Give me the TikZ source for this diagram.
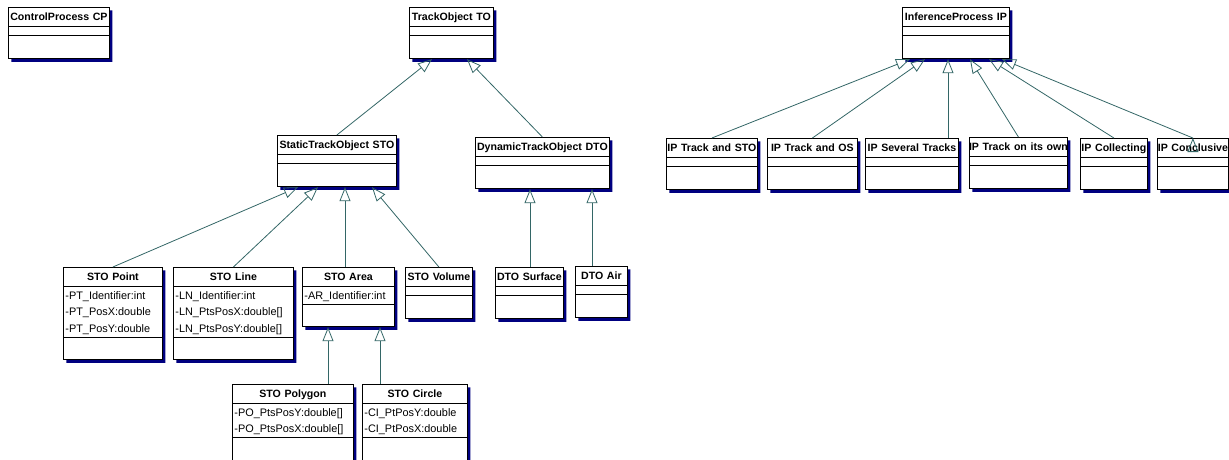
\documentclass[tikz,border=0pt]{standalone}
\usepackage{fontspec}
\setmainfont{Liberation Sans}
\usetikzlibrary{shapes.multipart,shadows,arrows.meta,calc}
\definecolor{shadownavy}{RGB}{0,0,128}
\definecolor{linkteal}{RGB}{51,102,102}

\newcommand{\clsname}[1]{\makebox[\hsize][c]{\fontsize{10.6}{12}\selectfont\bfseries\rule[-6pt]{0pt}{18.5pt}#1}}
\newcommand{\attrs}{\baselineskip=16.5pt\lineskip=0pt\lineskiplimit=0pt}
\newcommand{\attr}[1]{\rule[-4.5pt]{0pt}{16.5pt}\hspace*{2pt}#1\par}
\newcommand{\noattr}{\rule{0pt}{7.5pt}}
\newcommand{\noops}[1][23pt]{\rule{0pt}{#1}}
\newcommand{\plaincls}[1]{\clsname{#1}\nodepart{two}\noattr\nodepart{three}\noops}

\tikzset{
  umlclass/.style={rectangle split, rectangle split parts=3,
    rectangle split ignore empty parts=false, draw, line width=0.8pt,
    fill=white, inner xsep=0pt, inner ysep=0pt, text width=#1,
    anchor=north west, font=\fontsize{10.9}{16.5}\selectfont,
    drop shadow={shadow xshift=3pt, shadow yshift=-3pt, fill=shadownavy, opacity=1}},
  inherit/.style={draw, color=linkteal, line width=0.8pt,
    -{Triangle[open,length=14pt,width=11pt]}}
}

\begin{document}
\begin{tikzpicture}[x=1pt,y=-1pt]
   \useasboundingbox (0,0) rectangle (1229,459);

   % top level
   \node[umlclass=101pt] (cp) at (8,7) {\plaincls{ControlProcess CP}};
   \node[umlclass=84pt] (to) at (409,7) {\plaincls{TrackObject TO}};
   \node[umlclass=107pt] (ip) at (902,7) {\plaincls{InferenceProcess IP}};

   % track objects
   \node[umlclass=119pt] (sto) at (277,135) {\plaincls{StaticTrackObject STO}};
   \node[umlclass=134pt] (dto) at (475,137) {\plaincls{DynamicTrackObject DTO}};

   \node[umlclass=99pt] (stopoint) at (63,267) {\clsname{STO Point}
     \nodepart{two}\attrs\attr{-PT\_Identifier:int}\attr{-PT\_PosX:double}\attr{-PT\_PosY:double}
     \nodepart{three}\noops[22pt]};
   \node[umlclass=120pt] (stoline) at (173,267) {\clsname{STO Line}
     \nodepart{two}\attrs\attr{-LN\_Identifier:int}\attr{-LN\_PtsPosX:double[]}\attr{-LN\_PtsPosY:double[]}
     \nodepart{three}\noops[22pt]};
   \node[umlclass=92pt] (stoarea) at (302,267) {\clsname{STO Area}
     \nodepart{two}\attrs\attr{-AR\_Identifier:int}
     \nodepart{three}\noops[22pt]};
   \node[umlclass=67pt] (stovolume) at (405,267) {\plaincls{STO Volume}};

   \node[umlclass=121pt] (stopolygon) at (232,384) {\clsname{STO Polygon}
     \nodepart{two}\attrs\attr{-PO\_PtsPosY:double[]}\attr{-PO\_PtsPosX:double[]}
     \nodepart{three}\noops[22pt]};
   \node[umlclass=105pt] (stocircle) at (362,384) {\clsname{STO Circle}
     \nodepart{two}\attrs\attr{-CI\_PtPosY:double}\attr{-CI\_PtPosX:double}
     \nodepart{three}\noops[22pt]};

   \node[umlclass=68pt] (dtosurface) at (495,267) {\plaincls{DTO Surface}};
   \node[umlclass=52pt] (dtoair) at (575,266) {\plaincls{DTO Air}};

   % inference processes
   \node[umlclass=91pt] (iptrack) at (666,138) {\plaincls{IP Track and STO}};
   \node[umlclass=90pt] (ipos) at (767,138) {\plaincls{IP Track and OS}};
   \node[umlclass=93pt] (ipseveral) at (865,138) {\plaincls{IP Several Tracks}};
   \node[umlclass=98pt] (ipown) at (969,137) {\plaincls{IP Track on its own}};
   \node[umlclass=67pt] (ipcollect) at (1080,138) {\plaincls{IP Collecting}};
   \node[umlclass=71pt] (ipconcl) at (1157,138) {\plaincls{IP Conclusive}};

   \coordinate (to-a) at ($(to.south west)+(23,0)$);
   \coordinate (to-b) at ($(to.south west)+(58,0)$);
   \coordinate (sto-a) at ($(sto.south west)+(21,0)$);
   \coordinate (sto-b) at ($(sto.south west)+(41,0)$);
   \coordinate (sto-c) at ($(sto.south west)+(68,0)$);
   \coordinate (sto-d) at ($(sto.south west)+(95,0)$);
   \coordinate (dto-a) at ($(dto.south west)+(55,0)$);
   \coordinate (dto-b) at ($(dto.south west)+(117,0)$);
   \coordinate (area-a) at ($(stoarea.south west)+(26,0)$);
   \coordinate (area-b) at ($(stoarea.south west)+(78,0)$);
   \coordinate (ip-a) at ($(ip.south west)+(8,0)$);
   \coordinate (ip-b) at ($(ip.south west)+(23,0)$);
   \coordinate (ip-c) at ($(ip.south west)+(46,0)$);
   \coordinate (ip-d) at ($(ip.south west)+(68,0)$);
   \coordinate (ip-e) at ($(ip.south west)+(87,0)$);
   \coordinate (ip-f) at ($(ip.south west)+(100,0)$);

   \path[inherit]
    (sto.north) edge (to-a)
    (dto.north) edge (to-b)
    (stopoint.north) edge (sto-a)
    (stoline.north) edge (sto-b)
    (sto-c |- stoarea.north) edge (sto-c)
    (stovolume.north) edge (sto-d)
    (dto-a |- dtosurface.north) edge (dto-a)
    (dto-b |- dtoair.north) edge (dto-b)
    (area-a |- stopolygon.north) edge (area-a)
    (area-b |- stocircle.north) edge (area-b)
    (iptrack.north) edge (ip-a)
    (ipos.north) edge (ip-b)
    (ip-c |- ipseveral.north) edge (ip-c)
    (ipown.north) edge (ip-d)
    (ipcollect.north) edge (ip-e)
    (ipconcl.north) edge (ip-f);
\end{tikzpicture}
\end{document}
